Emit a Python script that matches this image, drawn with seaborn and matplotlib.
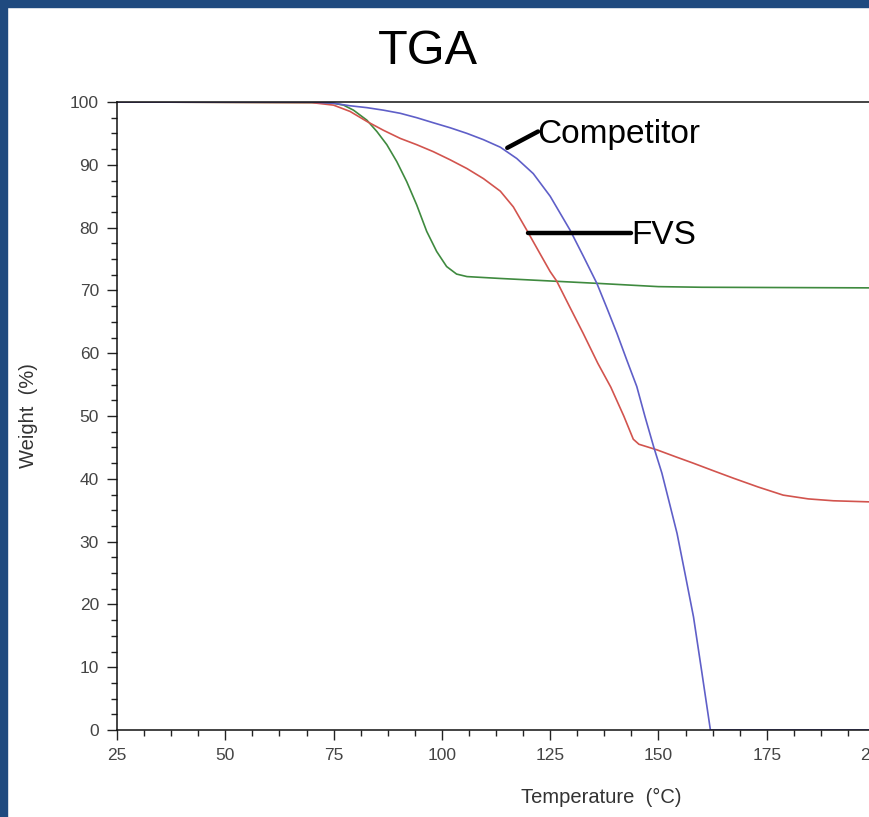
import matplotlib
matplotlib.use("Agg")
import matplotlib.pyplot as plt
from matplotlib.patches import Rectangle
from matplotlib.ticker import MultipleLocator
import pandas as pd
import seaborn as sns

# TGA curves
green_temp = [25, 70, 75, 77.3, 79.6, 82.7, 85, 87.3, 89.6, 91.9, 94.2, 96.5, 98.8, 101.1, 103.4,
              105.8, 113.5, 125, 136.5, 150, 160, 200]
green_wt = [100, 99.9, 99.8, 99.5, 98.7, 97.1, 95.3, 93.2, 90.5, 87.3, 83.6, 79.4, 76.2, 73.8, 72.6,
            72.2, 71.9, 71.5, 71.1, 70.6, 70.5, 70.4]

red_temp = [25, 70, 75, 78.8, 82.7, 86.5, 90.4, 94.2, 98, 101.9, 105.8, 109.6, 113.5, 116.5, 119.6,
            122.7, 125, 126.5, 129.5, 132.6, 136, 139, 142, 144.2, 145.5, 149.7, 154, 158, 163,
            167.3, 173, 178.8, 184.6, 190.4, 200]
red_wt = [100, 99.9, 99.5, 98.5, 96.9, 95.5, 94.2, 93.2, 92.1, 90.8, 89.4, 87.8, 85.8, 83.3, 79.6,
          75.8, 73, 71.5, 67.4, 63.2, 58.4, 54.6, 50, 46.3, 45.5, 44.6, 43.5, 42.5, 41.2,
          40.1, 38.7, 37.4, 36.8, 36.5, 36.3]

blue_temp = [25, 70, 75, 78.8, 82.7, 86.5, 90.4, 94.2, 98, 101.9, 105.8, 109.6, 113.5, 117.3, 121.1,
             125, 127.3, 129.6, 132.7, 135.8, 138.1, 140.4, 142.7, 145, 146.9, 148.9, 150.8,
             152.3, 154.3, 156.2, 158.1, 160, 162, 200]
blue_wt = [100, 100, 99.8, 99.4, 99.1, 98.7, 98.2, 97.5, 96.7, 95.9, 95.0, 94.0, 92.8, 91.0, 88.6,
           85.0, 82.3, 79.6, 75.4, 71.1, 67.2, 63.2, 58.9, 54.7, 49.9, 45.1, 40.9,
           36.8, 31.3, 24.7, 18, 9.3, 0, 0]

x_ticks = [25, 50, 75, 100, 125, 150, 175, 200]
y_ticks = [0, 10, 20, 30, 40, 50, 60, 70, 80, 90, 100]

sns.set_theme(style="white")
plt.rcParams["font.family"] = ["Liberation Sans", "DejaVu Sans"]

fig = plt.figure(figsize=(8.69, 8.17), dpi=100)
ax = fig.add_axes([117 / 869, 87 / 817, 758 / 869, 628 / 817])

curves = [(green_temp, green_wt, "#3f8a3f"),
          (red_temp, red_wt, "#d2544e"),
          (blue_temp, blue_wt, "#5f5fc8")]
for t, w, c in curves:
    df = pd.DataFrame({"Temperature": t, "Weight": w})
    sns.lineplot(data=df, x="Temperature", y="Weight", color=c, linewidth=1.2, ax=ax, sort=False)

ax.set_xlim(25, 200)
ax.set_ylim(0, 100)
ax.set_xticks(x_ticks)
ax.set_yticks(y_ticks)
ax.xaxis.set_minor_locator(MultipleLocator(6.25))
ax.yaxis.set_minor_locator(MultipleLocator(2.5))
ax.tick_params(axis="both", which="major", direction="out", length=7, width=1,
               color="#222222", labelsize=12.5, labelcolor="#444444", pad=6)
ax.tick_params(axis="both", which="minor", direction="out", length=4.5, width=1, color="#222222")
ax.tick_params(axis="x", which="both", bottom=True)
ax.tick_params(axis="y", which="both", left=True)
for lab in ax.get_xticklabels() + ax.get_yticklabels():
    lab.set_family(["Liberation Sans Narrow", "Liberation Sans"])

for s in ax.spines.values():
    s.set_color("#111111")
    s.set_linewidth(1.1)

ax.set_xlabel("Temperature  (°C)", fontsize=14.5, color="#333333")
ax.set_ylabel("Weight  (%)", fontsize=14.5, color="#333333")
ax.xaxis.set_label_coords(0.639, -0.092)
ax.yaxis.set_label_coords(-0.104, 0.5)

# callouts
ax.plot([115.1, 122.2], [92.7, 95.3], color="black", linewidth=3.2, solid_capstyle="round")
ax.text(122.0, 94.9, "Competitor", fontsize=24, va="center", ha="left", color="black")
ax.plot([120.0, 143.6], [79.1, 79.1], color="black", linewidth=3.2, solid_capstyle="round")
ax.text(143.8, 78.8, "FVS", fontsize=24, va="center", ha="left", color="black")

fig.text(428 / 869, 1 - 52 / 817, "TGA", fontsize=35, ha="center", va="center", color="black")

# dark blue frame
frame = "#1f4a7f"
fig.patches.append(Rectangle((0, 1 - 7 / 817), 1, 7 / 817, transform=fig.transFigure,
                             color=frame, zorder=10))
fig.patches.append(Rectangle((0, 0), 7 / 869, 1, transform=fig.transFigure,
                             color=frame, zorder=10))

fig.savefig("out.png", dpi=100)
